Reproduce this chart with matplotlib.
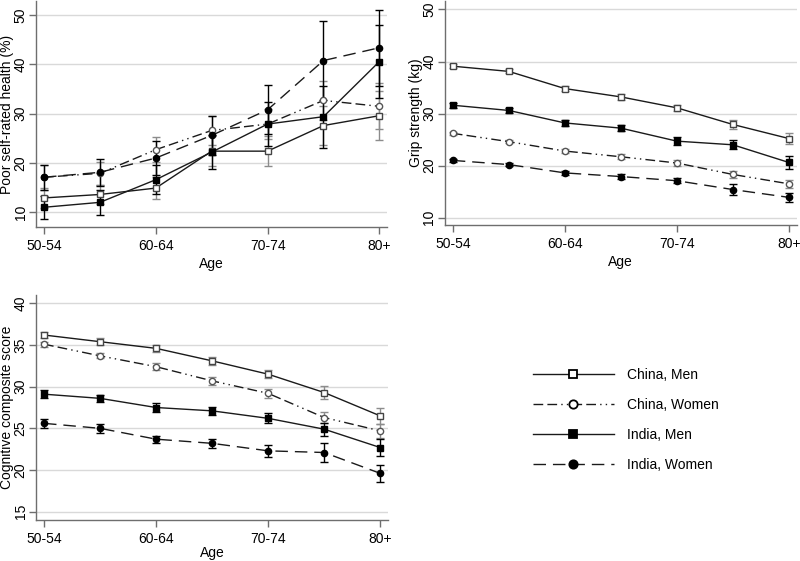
import matplotlib
matplotlib.use('Agg')
import matplotlib.pyplot as plt
from matplotlib.lines import Line2D

plt.rcParams['font.family'] = ['Liberation Sans', 'DejaVu Sans']
plt.rcParams['font.size'] = 10

age_groups = ['50-54', '55-59', '60-64', '65-69', '70-74', '75-79', '80+']
series = ['China, Men', 'China, Women', 'India, Men', 'India, Women']

# poor self-rated health (%)
srh = {
    'China, Men':   [12.9, 13.6, 14.9, 22.4, 22.4, 27.6, 29.6],
    'China, Women': [17.1, 17.9, 22.7, 26.6, 27.9, 32.7, 31.5],
    'India, Men':   [11.0, 12.0, 16.6, 22.2, 27.9, 29.4, 40.6],
    'India, Women': [17.1, 18.1, 21.0, 25.6, 30.8, 40.8, 43.4],
}
srh_err = {
    'China, Men':   [2.0, 2.0, 2.3, 3.0, 3.0, 4.0, 5.0],
    'China, Women': [2.5, 2.3, 2.5, 3.0, 3.0, 4.0, 4.7],
    'India, Men':   [2.3, 2.5, 3.0, 3.4, 4.5, 6.3, 7.5],
    'India, Women': [2.5, 2.8, 3.5, 4.0, 5.0, 8.1, 7.7],
}

# grip strength (kg)
grip = {
    'China, Men':   [39.1, 38.1, 34.8, 33.2, 31.1, 27.9, 25.2],
    'China, Women': [26.2, 24.6, 22.8, 21.7, 20.5, 18.3, 16.5],
    'India, Men':   [31.6, 30.6, 28.2, 27.2, 24.7, 24.0, 20.6],
    'India, Women': [21.0, 20.2, 18.6, 17.9, 17.1, 15.4, 13.9],
}
grip_err = {
    'China, Men':   [0.4, 0.4, 0.5, 0.5, 0.6, 0.9, 1.0],
    'China, Women': [0.3, 0.3, 0.4, 0.5, 0.6, 0.7, 0.8],
    'India, Men':   [0.5, 0.5, 0.5, 0.6, 0.8, 0.9, 1.2],
    'India, Women': [0.3, 0.3, 0.4, 0.4, 0.5, 1.0, 0.8],
}

# cognitive composite score
cog = {
    'China, Men':   [36.2, 35.4, 34.6, 33.1, 31.5, 29.3, 26.5],
    'China, Women': [35.1, 33.7, 32.4, 30.7, 29.2, 26.3, 24.7],
    'India, Men':   [29.1, 28.6, 27.5, 27.1, 26.2, 24.9, 22.7],
    'India, Women': [25.6, 25.0, 23.7, 23.2, 22.3, 22.1, 19.6],
}
cog_err = {
    'China, Men':   [0.4, 0.4, 0.4, 0.5, 0.5, 0.8, 1.0],
    'China, Women': [0.3, 0.3, 0.4, 0.5, 0.5, 0.7, 0.8],
    'India, Men':   [0.5, 0.4, 0.5, 0.5, 0.6, 0.8, 1.0],
    'India, Women': [0.5, 0.5, 0.4, 0.5, 0.7, 1.1, 1.0],
}

styles = {
    'China, Men':   dict(ls='-', marker='s', mfc='white', mec='#444444', ecol='#8c8c8c'),
    'China, Women': dict(ls=(0, (7, 3, 7, 3, 1, 3, 1, 3)), marker='o', mfc='white', mec='#555555', ecol='#8c8c8c'),
    'India, Men':   dict(ls='-', marker='s', mfc='black', mec='black', ecol='black'),
    'India, Women': dict(ls=(0, (9, 5)), marker='o', mfc='black', mec='black', ecol='black'),
}

x = list(range(len(age_groups)))
grid_col = '#d9d9d9'
axis_col = '#6e6e6e'

fig = plt.figure(figsize=(8, 5.61), dpi=100)
ax1 = fig.add_axes([0.045, 0.5954, 0.439, 0.402])
ax2 = fig.add_axes([0.556, 0.599, 0.44, 0.399])
ax3 = fig.add_axes([0.045, 0.0731, 0.44, 0.401])

panels = [
    (ax1, srh, srh_err, 'Poor self-rated health (%)', [10, 20, 30, 40, 50], (7.0, 52.8), 3),
    (ax2, grip, grip_err, 'Grip strength (kg)', [10, 20, 30, 40, 50], (8.6, 51.6), 3),
    (ax3, cog, cog_err, 'Cognitive composite score', [15, 20, 25, 30, 35, 40], (14.0, 41.0), 0.5),
]

for ax, data, err, ylab, yticks, ylim, xpad in panels:
    for s in series:
        st = styles[s]
        ax.errorbar(x, data[s], yerr=err[s], fmt='none', ecolor=st['ecol'],
                    elinewidth=1.0, capsize=3, capthick=1.0, zorder=2)
        ax.plot(x, data[s], color='#1a1a1a', ls=st['ls'], lw=1.0,
                marker=st['marker'], markersize=4.5, mfc=st['mfc'],
                mec=st['mec'], mew=1.0, zorder=3)
    ax.set_xlim(-0.143, 6.14)
    ax.set_ylim(*ylim)
    ax.set_yticks(yticks)
    ax.set_xticks([0, 2, 4, 6])
    ax.set_xticklabels(['50-54', '60-64', '70-74', '80+'])
    ax.grid(axis='y', color=grid_col, lw=1.0)
    ax.set_axisbelow(True)
    for side in ['top', 'right']:
        ax.spines[side].set_visible(False)
    for side in ['left', 'bottom']:
        ax.spines[side].set_color(axis_col)
        ax.spines[side].set_linewidth(1.0)
    ax.tick_params(axis='both', colors=axis_col, labelcolor='black', length=5, width=1.0, labelsize=10)
    ax.tick_params(axis='y', labelrotation=90, pad=1)
    for lab in ax.get_yticklabels():
        lab.set_va('center')
    ax.set_ylabel(ylab, fontsize=10)
    ax.yaxis.set_label_coords(-0.062, 0.5)
    ax.set_xlabel('Age', fontsize=10, labelpad=xpad)

handles = []
for s in series:
    st = styles[s]
    handles.append(Line2D([], [], color='#1a1a1a', ls=st['ls'], lw=1.0,
                          marker=st['marker'], markersize=6, mfc=st['mfc'],
                          mec='black', mew=1.3))
fig.legend(handles, series, loc='upper left', bbox_to_anchor=(533 / 800, 1 - 368 / 561),
           frameon=False, handlelength=5.8, handletextpad=1.0, labelspacing=1.15,
           borderpad=0, borderaxespad=0, fontsize=10)

fig.savefig('out.png', dpi=100)
